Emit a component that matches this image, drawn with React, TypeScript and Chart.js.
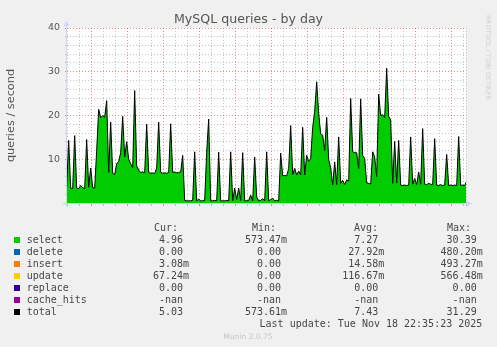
import React, { useEffect, useRef } from "react";
import { Chart, registerables } from "chart.js";

Chart.register(...registerables);

// ---- data ----
const startHour = 13 + 20 / 60; // Mon 13:20, hours since Mon 00:00
const stepHours = 10 / 60; // 10-minute samples

const selectValues = [
  3.6, 14.3, 3.4, 3.3, 15.4, 3.4, 3.3, 4.0, 3.5, 3.3,
  14.5, 3.6, 8.0, 3.5, 3.4, 12.0, 21.4, 19.5, 20.0, 19.6,
  23.4, 7.0, 18.5, 6.8, 6.5, 9.0, 9.5, 11.5, 19.8, 10.5,
  14.0, 10.0, 9.0, 8.0, 25.7, 8.5, 7.5, 7.0, 7.1, 6.9,
  18.0, 7.0, 6.8, 6.9, 6.7, 8.0, 18.5, 7.0, 6.8, 6.9,
  6.8, 7.0, 18.1, 7.0, 7.1, 6.9, 7.0, 7.1, 10.9, 0.6,
  0.5, 0.5, 0.5, 0.6, 11.7, 0.5, 0.9, 0.5, 0.5, 0.6,
  11.6, 19.2, 0.5, 0.5, 0.6, 0.5, 11.6, 0.5, 0.5, 0.5,
  0.6, 0.5, 11.7, 0.5, 3.4, 0.8, 3.4, 0.6, 11.5, 0.5,
  0.5, 0.6, 1.8, 0.5, 10.5, 1.4, 0.5, 0.6, 1.0, 0.5,
  11.7, 0.5, 0.8, 1.1, 0.5, 0.6, 0.5, 11.4, 6.2, 6.3,
  6.2, 7.9, 17.7, 6.5, 7.9, 6.4, 7.3, 6.4, 17.3, 6.4,
  10.9, 9.5, 10.2, 17.3, 21.0, 27.7, 20.5, 15.8, 15.5, 12.0,
  19.6, 10.0, 8.0, 4.1, 9.4, 4.2, 15.1, 4.5, 5.2, 4.2,
  5.3, 5.0, 23.9, 11.7, 11.5, 11.5, 7.9, 23.8, 10.9, 10.2,
  4.6, 4.5, 4.3, 11.7, 10.5, 6.0, 24.9, 20.0, 20.2, 19.5,
  30.8, 19.8, 19.0, 4.5, 14.1, 4.6, 14.3, 4.1, 4.0, 4.1,
  4.0, 4.1, 15.1, 4.3, 5.6, 4.2, 7.1, 4.3, 17.0, 4.3,
  4.2, 4.5, 4.3, 4.2, 14.7, 4.1, 4.0, 4.2, 4.0, 4.1,
  11.1, 4.0, 4.1, 4.0, 4.1, 4.0, 15.2, 4.0, 4.1, 4.0,
  5.0,
];

const tickHours = [18, 24, 30, 36, 42];
const tickLabels = ["Mon 18:00", "Tue 00:00", "Tue 06:00", "Tue 12:00", "Tue 18:00"];
const yLabelValues = [10, 20, 30, 40];

const seriesNames = ["select", "delete", "insert", "update", "replace", "cache_hits", "total"];
const seriesColors = ["#00cc00", "#0066b3", "#ff8000", "#ffcc00", "#330099", "#990099", "#000000"];
const curVals = ["4.96", "0.00", "3.08m", "67.24m", "0.00", "-nan", "5.03"];
const minVals = ["573.47m", "0.00", "0.00", "0.00", "0.00", "-nan", "573.61m"];
const avgVals = ["7.27", "27.92m", "14.58m", "116.67m", "0.00", "-nan", "7.43"];
const maxVals = ["30.39", "480.20m", "493.27m", "566.48m", "0.00", "-nan", "31.29"];
const columnHeaders = ["Cur:", "Min:", "Avg:", "Max:"];

const W = 497;
const H = 347;
const MAJOR = "rgba(225,70,70,0.6)";
const MINOR = "rgba(150,150,150,0.55)";
const AXIS = "#cfd6f8";
const TXT = "#555555";
const MONO = "'DejaVu Sans Mono', monospace";
const SANS = "'DejaVu Sans', sans-serif";

const plotBg = {
  id: "plotBg",
  beforeDraw(chart: any) {
    const { ctx, chartArea } = chart;
    ctx.save();
    ctx.fillStyle = "#ffffff";
    ctx.fillRect(chartArea.left, chartArea.top, chartArea.width, chartArea.height);
    ctx.restore();
  },
};

const axisArrows = {
  id: "axisArrows",
  afterDraw(chart: any) {
    const { ctx, chartArea } = chart;
    const l = chartArea.left - 0.5;
    const b = chartArea.bottom + 0.5;
    ctx.save();
    ctx.strokeStyle = AXIS;
    ctx.fillStyle = AXIS;
    ctx.lineWidth = 1;
    ctx.beginPath();
    ctx.moveTo(l, b + 3);
    ctx.lineTo(l, chartArea.top - 3);
    ctx.moveTo(l - 4, b);
    ctx.lineTo(chartArea.right + 2, b);
    ctx.stroke();
    ctx.beginPath();
    ctx.moveTo(l - 3, chartArea.top - 2);
    ctx.lineTo(l + 3, chartArea.top - 2);
    ctx.lineTo(l, chartArea.top - 7);
    ctx.closePath();
    ctx.fill();
    ctx.beginPath();
    ctx.moveTo(chartArea.right + 1, b - 3);
    ctx.lineTo(chartArea.right + 1, b + 3);
    ctx.lineTo(chartArea.right + 6, b);
    ctx.closePath();
    ctx.fill();
    ctx.restore();
  },
};

function splitVal(v: string): [string, string] {
  if (v.endsWith("m")) return [v.slice(0, -1), "m"];
  return [v, ""];
}

const colRight = [183, 281, 378.3, 476.7];
const headerLeft = [154, 252, 354, 447];

export default function App() {
  const canvasRef = useRef<HTMLCanvasElement | null>(null);

  useEffect(() => {
    const canvas = canvasRef.current;
    if (!canvas) return;
    const points = selectValues.map((v, i) => ({ x: startHour + i * stepHours, y: v }));
    const chart = new Chart(canvas, {
      type: "line",
      data: {
        datasets: [
          {
            label: "select",
            data: points,
            backgroundColor: "#00cc00",
            borderWidth: 0,
            borderColor: "rgba(0,0,0,0)",
            fill: "origin",
            pointRadius: 0,
            tension: 0,
            order: 2,
          },
          {
            label: "total",
            data: points,
            borderColor: "#000000",
            borderWidth: 1,
            fill: false,
            pointRadius: 0,
            tension: 0,
            order: 1,
          },
        ],
      },
      options: {
        animation: false,
        responsive: false,
        devicePixelRatio: 1,
        layout: { padding: { left: 0, top: 28, right: 31, bottom: 124 } },
        plugins: {
          legend: { display: false },
          title: { display: false },
          tooltip: { enabled: false },
        },
        scales: {
          x: {
            type: "linear",
            bounds: "data",
            min: 13.36,
            max: 46.61,
            afterFit(scale: any) {
              scale.height = 20;
            },
            border: { display: false, dash: [1, 2] },
            grid: {
              color: (c: any) => (c.tick && Math.round(c.tick.value) % 3 === 0 ? MAJOR : MINOR),
              tickColor: (c: any) => (c.tick && Math.round(c.tick.value) % 3 === 0 ? MAJOR : MINOR),
              tickLength: 3,
              lineWidth: 1,
            },
            ticks: {
              stepSize: 1,
              includeBounds: false,
              autoSkip: false,
              maxRotation: 0,
              minRotation: 0,
              padding: 2,
              color: TXT,
              font: { family: SANS, size: 9.4 },
              callback: (value: any) => {
                const r = Math.round(value);
                if (Math.abs(value - r) > 1e-6) return "";
                const k = tickHours.indexOf(r);
                return k >= 0 ? tickLabels[k] : "";
              },
            },
          },
          y: {
            type: "linear",
            min: 0,
            max: 40,
            afterFit(scale: any) {
              scale.width = 67;
            },
            border: { display: false, dash: [1, 2] },
            grid: {
              color: (c: any) => (c.tick && c.tick.value % 10 === 0 ? MAJOR : MINOR),
              tickColor: (c: any) => (c.tick && c.tick.value % 10 === 0 ? MAJOR : MINOR),
              tickLength: 2,
              lineWidth: 1,
            },
            ticks: {
              stepSize: 2,
              autoSkip: false,
              padding: 5,
              color: TXT,
              font: { family: SANS, size: 9.4 },
              callback: (value: any) => (yLabelValues.indexOf(value) >= 0 ? String(value) : ""),
            },
            title: {
              display: true,
              text: "queries / second",
              color: TXT,
              font: { family: SANS, size: 11.3 },
              padding: { top: 4, bottom: 0 },
            },
          },
        },
      },
      plugins: [plotBg, axisArrows],
    });
    return () => chart.destroy();
  }, []);

  const legendTop = (baseline: number) => baseline - 8.46;

  return (
    <div
      style={{
        position: "fixed",
        left: 0,
        top: 0,
        width: W,
        height: H,
        background: "#f0f0f0",
        overflow: "hidden",
      }}
    >
      <canvas ref={canvasRef} width={W} height={H} style={{ position: "absolute", left: 0, top: 0, width: W, height: H }} />
      <div
        style={{
          position: "absolute",
          left: 0,
          top: 13.34,
          width: W,
          textAlign: "center",
          fontFamily: SANS,
          fontSize: 12.6,
          lineHeight: 1,
          color: TXT,
          whiteSpace: "nowrap",
        }}
      >
        MySQL queries - by day
      </div>
      <div
        style={{
          position: "absolute",
          left: 491.3,
          top: 15,
          transformOrigin: "0 0",
          transform: "rotate(90deg)",
          fontFamily: SANS,
          fontSize: 6.6,
          lineHeight: 1,
          color: "#cfcfcf",
          whiteSpace: "nowrap",
        }}
      >
        RRDTOOL / TOBI OETIKER
      </div>
      <div style={{ position: "absolute", left: 0, top: 0, width: W, height: H, fontFamily: MONO, fontSize: 10, lineHeight: "10px", color: "#474747", whiteSpace: "pre" }}>
        {columnHeaders.map((h, j) => (
          <div key={"h" + j} style={{ position: "absolute", left: headerLeft[j], top: legendTop(231.5) }}>
            {h}
          </div>
        ))}
        {seriesNames.map((name, i) => {
          const base = 243.5 + 12 * i;
          const cols = [curVals[i], minVals[i], avgVals[i], maxVals[i]];
          return (
            <React.Fragment key={name}>
              <div
                style={{
                  position: "absolute",
                  left: 14,
                  top: base - 6.3,
                  width: 6,
                  height: 6,
                  background: seriesColors[i],
                }}
              />
              <div style={{ position: "absolute", left: 26.7, top: legendTop(base) }}>{name}</div>
              {cols.map((v, j) => {
                const [num, suf] = splitVal(v);
                return (
                  <React.Fragment key={j}>
                    <div style={{ position: "absolute", right: W - colRight[j], top: legendTop(base) }}>{num}</div>
                    {suf ? (
                      <div style={{ position: "absolute", left: colRight[j], top: legendTop(base) }}>{suf}</div>
                    ) : null}
                  </React.Fragment>
                );
              })}
            </React.Fragment>
          );
        })}
        <div style={{ position: "absolute", right: W - 482.3, top: legendTop(327.5) }}>
          Last update: Tue Nov 18 22:35:23 2025
        </div>
      </div>
      <div
        style={{
          position: "absolute",
          left: 0,
          top: 332.95,
          width: W - 1,
          textAlign: "center",
          fontFamily: SANS,
          fontSize: 7.5,
          lineHeight: 1,
          color: "#c6c6c6",
          whiteSpace: "nowrap",
        }}
      >
        Munin 2.0.75
      </div>
    </div>
  );
}
